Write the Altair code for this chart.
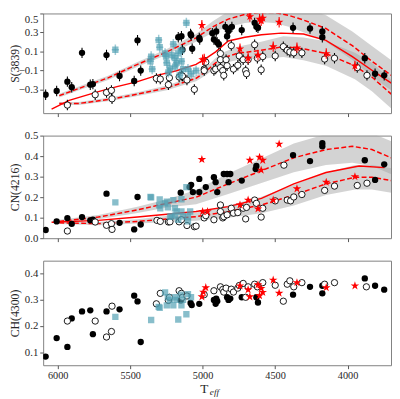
import altair as alt
import pandas as pd

FONT = "Liberation Serif"
XDOM = [6100, 3700]
XTICKS = [6000, 5500, 5000, 4500, 4000]
W = 356
RED = "#ff0000"
TEAL = "#4f9fb2"
TXT = "#262626"
ERR = 0.055
STAR = ("M0,-1L0.225,-0.309L0.951,-0.309L0.363,0.118L0.588,0.809L0,0.382"
        "L-0.588,0.809L-0.363,0.118L-0.951,-0.309L-0.225,-0.309Z")

# ---------------- S(3839) panel ----------------
S_BLACK_TEFF = [6083, 6007, 5933, 5903, 5832, 5775, 5757, 5663, 5573, 5472, 5449, 5427,
                5168, 5139, 5083, 5072, 5146, 5079, 5023, 5020, 4933, 4922, 4906, 4899, 4888,
                4843, 4821, 4831, 4798, 4730, 4641, 4629, 4618, 4376, 4259, 4174, 4174, 3881, 3810, 3747]
S_BLACK_VAL = [-0.356, -0.317, -0.218, -0.277, 0.085, -0.25, -0.244, 0.062, -0.159, -0.211, 0.217, -0.102,
               0.25, 0.118, 0.283, 0.128, 0.26, 0.27, 0.243, 0.225, 0.293, 0.226, 0.31, 0.194, 0.177,
               0.359, 0.316, 0.26, 0.359, 0.325, 0.401, 0.359, 0.35, 0.349, 0.342, 0.31, 0.25, 0.029, -0.135, -0.152]
S_WHITE_TEFF = [5933, 5741, 5663, 5629, 5625, 5319, 5292, 5236, 5229, 5162, 5146, 5139, 5108, 5057,
                4989, 4989, 4978, 4922, 4910, 4877, 4877, 4877, 4861, 4854, 4838, 4831, 4802, 4787,
                4757, 4747, 4720, 4703, 4697, 4686, 4641, 4622, 4596, 4585, 4499, 4443, 4416, 4398,
                4371, 4315, 4158, 4090, 3933, 3866]
S_WHITE_VAL = [-0.465, -0.356, -0.333, -0.31, -0.399, -0.184, -0.191, -0.25, -0.178, -0.169, -0.152, -0.16, -0.201, -0.3,
               -0.086, -0.102, -0.013, -0.102, -0.086, 0.078, 0.013, -0.07, -0.102, -0.152, 0.013, -0.05, 0.161, -0.086,
               -0.046, 0.053, 0.013, -0.102, -0.135, 0.013, 0.171, 0.029, -0.093, 0.046, 0.053, 0.151, 0.112, 0.095,
               0.085, 0.085, 0.02, 0.029, -0.07, -0.152]
S_TEAL_TEFF = [5602, 5360, 5348, 5355, 5303, 5296, 5259, 5252, 5247, 5225, 5214, 5202, 5191, 5180,
               5168, 5158, 5146, 5146, 5135, 5112, 5101, 5079, 5045, 5236, 5190]
S_TEAL_VAL = [0.118, -0.003, -0.086, 0.046, 0.22, 0.144, 0.078, 0.046, -0.02, -0.08, 0.062, 0.177, 0.029, -0.02,
              0.08, -0.152, 0.112, -0.003, -0.086, 0.401, -0.086, -0.135, -0.102, -0.12, -0.06]
S_STAR_TEFF = [5005, 4674, 4607, 4596, 4585, 4472, 5000, 4989, 4742, 4686, 4618, 4513, 4349, 4147, 3949]
S_STAR_VAL = [0.375, 0.467, 0.441, 0.424, 0.45, 0.408, 0.013, 0.02, 0.128, 0.029, 0.062, 0.151, 0.138, 0.078, -0.053]

S_SOLID_TEFF = [6042, 5921, 5719, 5584, 5449, 5315, 5180, 5045, 4977, 4910, 4823, 4708, 4594, 4459, 4304, 4149, 3967, 3812, 3698]
S_SOLID_VAL = [-0.507, -0.416, -0.323, -0.268, -0.218, -0.152, -0.103, -0.036, 0.026, 0.095, 0.21, 0.25, 0.276, 0.293, 0.283, 0.217, 0.046, -0.119, -0.234]
S_UP_TEFF = [5989, 5854, 5652, 5449, 5247, 5045, 4930, 4823, 4708, 4607, 4506, 4405, 4304, 4149, 3967, 3832, 3698]
S_UP_VAL = [-0.366, -0.29, -0.178, -0.036, 0.095, 0.243, 0.359, 0.441, 0.49, 0.51, 0.51, 0.48, 0.431, 0.342, 0.161, -0.003, -0.152]
S_UP_BAND = [0.02, 0.02, 0.022, 0.025, 0.03, 0.04, 0.06, 0.08, 0.09, 0.1, 0.11, 0.12, 0.13, 0.14, 0.15, 0.16, 0.16]
S_LO_TEFF = [5989, 5854, 5617, 5449, 5247, 5045, 4977, 4910, 4843, 4760, 4596, 4443, 4304, 4149, 3949, 3832, 3698]
S_LO_VAL = [-0.448, -0.448, -0.399, -0.35, -0.283, -0.184, -0.11, -0.02, 0.04, 0.08, 0.112, 0.151, 0.128, 0.078, -0.053, -0.17, -0.35]
S_LO_BAND = [0.015, 0.015, 0.018, 0.02, 0.025, 0.03, 0.04, 0.05, 0.06, 0.07, 0.09, 0.11, 0.12, 0.13, 0.14, 0.15, 0.15]

# ---------------- CN(4216) panel ----------------
CN_BLACK_TEFF = [6083, 6007, 5933, 5903, 5832, 5775, 5757, 5663, 5573, 5472, 5449, 5427,
                 5151, 5090, 5079, 5067, 5023, 5023, 4978, 4922, 4910, 4899, 4854, 4831, 4821, 4809,
                 4730, 4629, 4634, 4376, 4259, 4174, 4174, 3881, 3810, 3747]
CN_BLACK_VAL = [0.04, 0.082, 0.098, 0.07, 0.103, 0.087, 0.09, 0.217, 0.075, 0.043, 0.201, 0.067,
                0.222, 0.249, 0.26, 0.225, 0.289, 0.225, 0.249, 0.297, 0.273, 0.225, 0.313, 0.313, 0.273, 0.313,
                0.281, 0.352, 0.337, 0.405, 0.376, 0.463, 0.448, 0.38, 0.284, 0.36]
CN_WHITE_TEFF = [5933, 5741, 5663, 5629, 5625, 5315, 5292, 5236, 5225, 5162, 5146, 5108, 5057, 5045,
                 4989, 4978, 4922, 4877, 4877, 4861, 4854, 4831, 4802, 4787, 4757, 4720, 4703, 4697,
                 4641, 4629, 4596, 4585, 4499, 4439, 4416, 4393, 4371, 4315, 4158, 4090, 3933, 3866]
CN_WHITE_VAL = [0.035, 0.079, 0.063, 0.071, 0.043, 0.087, 0.082, 0.079, 0.08, 0.08, 0.09, 0.062, 0.056, 0.059,
                0.099, 0.11, 0.09, 0.162, 0.13, 0.099, 0.105, 0.114, 0.146, 0.122, 0.125, 0.146, 0.094, 0.15,
                0.186, 0.17, 0.103, 0.146, 0.182, 0.356, 0.186, 0.182, 0.201, 0.213, 0.233, 0.254, 0.257, 0.268]
CN_TEAL_TEFF = [5602, 5355, 5360, 5296, 5292, 5247, 5259, 5225, 5214, 5202, 5191, 5180, 5168, 5146,
                5146, 5135, 5112, 5101, 5101, 5086, 5300, 5240, 5190]
CN_TEAL_VAL = [0.175, 0.199, 0.201, 0.189, 0.146, 0.178, 0.17, 0.106, 0.106, 0.186, 0.146, 0.13, 0.09, 0.13,
               0.19, 0.106, 0.249, 0.082, 0.106, 0.13, 0.16, 0.15, 0.11]
CN_STAR_TEFF = [5005, 4674, 4607, 4585, 4596, 4472, 5000, 4966, 4742, 4686, 4618, 4513, 4349, 4147, 3949]
CN_STAR_VAL = [0.384, 0.38, 0.395, 0.38, 0.332, 0.459, 0.13, 0.13, 0.162, 0.186, 0.143, 0.186, 0.241, 0.273, 0.3]

CN_SOLID_TEFF = [6042, 5719, 5449, 5045, 4823, 4594, 4371, 4149, 3920, 3745]
CN_SOLID_VAL = [0.078, 0.087, 0.103, 0.13, 0.154, 0.194, 0.265, 0.32, 0.352, 0.344]
CN_UP_TEFF = [5989, 5719, 5449, 5247, 5045, 4823, 4594, 4371, 4149, 3967, 3832, 3698]
CN_UP_VAL = [0.082, 0.103, 0.138, 0.17, 0.2, 0.265, 0.329, 0.392, 0.432, 0.448, 0.432, 0.392]
CN_UP_BAND = [0.008, 0.01, 0.015, 0.02, 0.035, 0.05, 0.06, 0.07, 0.075, 0.08, 0.08, 0.08]
CN_LO_TEFF = [5989, 5719, 5449, 5045, 4823, 4594, 4371, 4149, 3947, 3832, 3698]
CN_LO_VAL = [0.075, 0.071, 0.082, 0.105, 0.13, 0.162, 0.21, 0.265, 0.297, 0.297, 0.281]
CN_LO_BAND = [0.006, 0.008, 0.01, 0.02, 0.03, 0.04, 0.05, 0.055, 0.06, 0.06, 0.06]

# ---------------- CH(4300) panel ----------------
CH_BLACK_TEFF = [6083, 6007, 5933, 5903, 5832, 5775, 5757, 5663, 5573, 5472, 5449, 5427,
                 5151, 5083, 5075, 5023, 4922, 4910, 4906, 4899, 4831, 4821, 4809, 4730, 4629, 4618,
                 4376, 4259, 4174, 4174, 3881, 3810, 3747]
CH_BLACK_VAL = [0.083, 0.154, 0.12, 0.229, 0.256, 0.26, 0.169, 0.256, 0.264, 0.316, 0.294, 0.139,
                0.298, 0.288, 0.28, 0.285, 0.3, 0.285, 0.305, 0.295, 0.31, 0.3, 0.305, 0.31, 0.31, 0.29,
                0.32, 0.35, 0.325, 0.354, 0.382, 0.354, 0.339]
CH_WHITE_TEFF = [5933, 5741, 5663, 5629, 5625, 5319, 5292, 5236, 5229, 5162, 5146, 5139, 5108, 4989,
                 4922, 4877, 4861, 4854, 4838, 4802, 4787, 4757, 4747, 4720, 4703, 4686, 4641, 4622,
                 4585, 4499, 4443, 4416, 4398, 4371, 4315, 4158, 4090, 3870]
CH_WHITE_VAL = [0.219, 0.219, 0.158, 0.179, 0.276, 0.285, 0.325, 0.298, 0.31, 0.335, 0.325, 0.31, 0.315, 0.32,
                0.335, 0.35, 0.34, 0.33, 0.345, 0.341, 0.33, 0.345, 0.355, 0.363, 0.31, 0.35, 0.36, 0.35,
                0.366, 0.356, 0.295, 0.36, 0.373, 0.35, 0.366, 0.36, 0.366, 0.35]
CH_TEAL_TEFF = [5602, 5355, 5303, 5296, 5259, 5247, 5225, 5202, 5191, 5168, 5146, 5135, 5112, 5101,
                5080, 5240, 5180, 5150]
CH_TEAL_VAL = [0.235, 0.223, 0.273, 0.27, 0.329, 0.279, 0.3, 0.279, 0.31, 0.225, 0.279, 0.3, 0.245, 0.322,
               0.31, 0.31, 0.3, 0.32]
CH_STAR_TEFF = [5005, 4978, 4995, 4742, 4686, 4674, 4618, 4607, 4596, 4585, 4513, 4472, 4349, 4147, 3949]
CH_STAR_VAL = [0.312, 0.347, 0.33, 0.354, 0.339, 0.312, 0.358, 0.316, 0.344, 0.329, 0.376, 0.326, 0.366, 0.347, 0.354]


def pts(teff, val):
    d = pd.DataFrame({"teff": teff, "val": val})
    d["lo"] = d["val"] - ERR
    d["hi"] = d["val"] + ERR
    d["tlo"] = d["teff"] - 25
    d["thi"] = d["teff"] + 25
    return d


def curve(name, teff, val, band=None):
    d = pd.DataFrame({"teff": teff, "val": val})
    d["curve"] = name
    if band is not None:
        b = pd.Series(band, dtype=float)
        d["blo"] = d["val"] - b
        d["bhi"] = d["val"] + b
    return d


def panel(black, white, teal, stars, curves, ydom, yticks, ytitle, height,
          errors=False, bottom=False, flush=False):
    xaxis = alt.Axis(values=XTICKS, format="d", labels=bottom, title=None, grid=False, domain=False,
                     tickSize=3.5, tickColor="#555555", labelFont=FONT, labelFontSize=10.5,
                     labelColor=TXT, labelPadding=2)
    yaxis = alt.Axis(values=yticks, format=".1f", title=ytitle, grid=False, domain=False,
                     tickSize=3.5, tickColor="#555555", labelFont=FONT, labelFontSize=11,
                     labelColor=TXT, labelPadding=2, titleFont=FONT, titleFontSize=12,
                     titleFontWeight="normal", titleColor=TXT, titleX=-29,
                     titleBaseline="middle", labelFlush=flush)
    xsc = alt.Scale(domain=XDOM, nice=False, zero=False)
    X = alt.X("teff:Q", scale=xsc, axis=xaxis)
    ysc = alt.Scale(domain=ydom, nice=False, zero=False)
    Y = alt.Y("val:Q", scale=ysc, axis=yaxis)

    layers = []
    if curves is not None:
        solid, up, lo = curves
        bands = pd.concat([up, lo], ignore_index=True)
        layers += [
            alt.Chart(bands).mark_area(color="#a8a8a8", opacity=0.5, clip=True).encode(
                x=X, y=alt.Y("blo:Q", scale=ysc, axis=yaxis), y2="bhi:Q", detail="curve:N"),
            alt.Chart(solid).mark_line(color=RED, strokeWidth=1.5, clip=True).encode(x=X, y=Y),
            alt.Chart(bands).mark_line(color=RED, strokeWidth=1.5, strokeDash=[5, 2.5],
                                       clip=True).encode(x=X, y=Y, detail="curve:N"),
        ]
    if errors:
        for d in (black, white):
            layers.append(alt.Chart(d).mark_rule(color="black", strokeWidth=1.1, clip=True).encode(
                x=X, y=alt.Y("lo:Q", scale=ysc, axis=yaxis), y2="hi:Q"))
    layers.append(alt.Chart(black).mark_point(shape="circle", filled=True, color="black", size=42,
                                              opacity=1, clip=True).encode(x=X, y=Y))
    layers.append(alt.Chart(white).mark_point(shape="circle", filled=True, fill="white", stroke="black",
                                              strokeWidth=0.9, size=42, opacity=1, clip=True).encode(x=X, y=Y))
    if errors:
        layers.append(alt.Chart(teal).mark_rule(color=TEAL, opacity=0.55, strokeWidth=1.5, clip=True).encode(
            x=X, y=alt.Y("lo:Q", scale=ysc, axis=yaxis), y2="hi:Q"))
        layers.append(alt.Chart(teal).mark_rule(color=TEAL, opacity=0.55, strokeWidth=1.5, clip=True).encode(
            x=alt.X("tlo:Q", scale=xsc, axis=xaxis), x2="thi:Q", y=Y))
    layers.append(alt.Chart(teal).mark_point(shape="square", filled=True, color=TEAL, opacity=0.68,
                                             size=42, clip=True).encode(x=X, y=Y))
    if errors:
        layers.append(alt.Chart(stars).mark_rule(color=RED, strokeWidth=1.1, clip=True).encode(
            x=X, y=alt.Y("lo:Q", scale=ysc, axis=yaxis), y2="hi:Q"))
    layers.append(alt.Chart(stars).mark_point(shape=STAR, filled=True, color=RED, size=85, opacity=1,
                                              clip=True).encode(x=X, y=Y))
    if bottom:
        lab = pd.DataFrame({"t": ["T"], "s": ["eff"]})
        layers.append(alt.Chart(lab).mark_text(font=FONT, fontSize=13.5, color=TXT, align="center",
                                               baseline="alphabetic").encode(
            x=alt.value(165), y=alt.value(height + 28), text="t:N"))
        layers.append(alt.Chart(lab).mark_text(font=FONT, fontSize=9.5, fontStyle="italic", color=TXT,
                                               align="left", baseline="alphabetic").encode(
            x=alt.value(170.5), y=alt.value(height + 30), text="s:N"))
    return alt.layer(*layers).properties(width=W, height=height)


top = panel(pts(S_BLACK_TEFF, S_BLACK_VAL), pts(S_WHITE_TEFF, S_WHITE_VAL), pts(S_TEAL_TEFF, S_TEAL_VAL),
            pts(S_STAR_TEFF, S_STAR_VAL),
            (curve("solid", S_SOLID_TEFF, S_SOLID_VAL),
             curve("up", S_UP_TEFF, S_UP_VAL, S_UP_BAND), curve("lo", S_LO_TEFF, S_LO_VAL, S_LO_BAND)),
            [-0.55, 0.5], [-0.3, -0.1, 0.1, 0.3, 0.5], "S(3839)", 102, errors=True, flush=True)
mid = panel(pts(CN_BLACK_TEFF, CN_BLACK_VAL), pts(CN_WHITE_TEFF, CN_WHITE_VAL), pts(CN_TEAL_TEFF, CN_TEAL_VAL),
            pts(CN_STAR_TEFF, CN_STAR_VAL),
            (curve("solid", CN_SOLID_TEFF, CN_SOLID_VAL),
             curve("up", CN_UP_TEFF, CN_UP_VAL, CN_UP_BAND), curve("lo", CN_LO_TEFF, CN_LO_VAL, CN_LO_BAND)),
            [0.0, 0.5], [0.0, 0.1, 0.2, 0.3, 0.4, 0.5], "CN(4216)", 105)
bot = panel(pts(CH_BLACK_TEFF, CH_BLACK_VAL), pts(CH_WHITE_TEFF, CH_WHITE_VAL), pts(CH_TEAL_TEFF, CH_TEAL_VAL),
            pts(CH_STAR_TEFF, CH_STAR_VAL), None,
            [0.05, 0.45], [0.1, 0.2, 0.3, 0.4], "CH(4300)", 107, bottom=True)

chart = alt.vconcat(top, mid, bot, spacing=23, bounds="flush").properties(
    padding={"left": 0, "top": 0, "right": 0, "bottom": 0}
).configure_view(stroke="#808080", strokeWidth=1)

chart.save("out.html", embed_options={"renderer": "svg", "actions": False})
